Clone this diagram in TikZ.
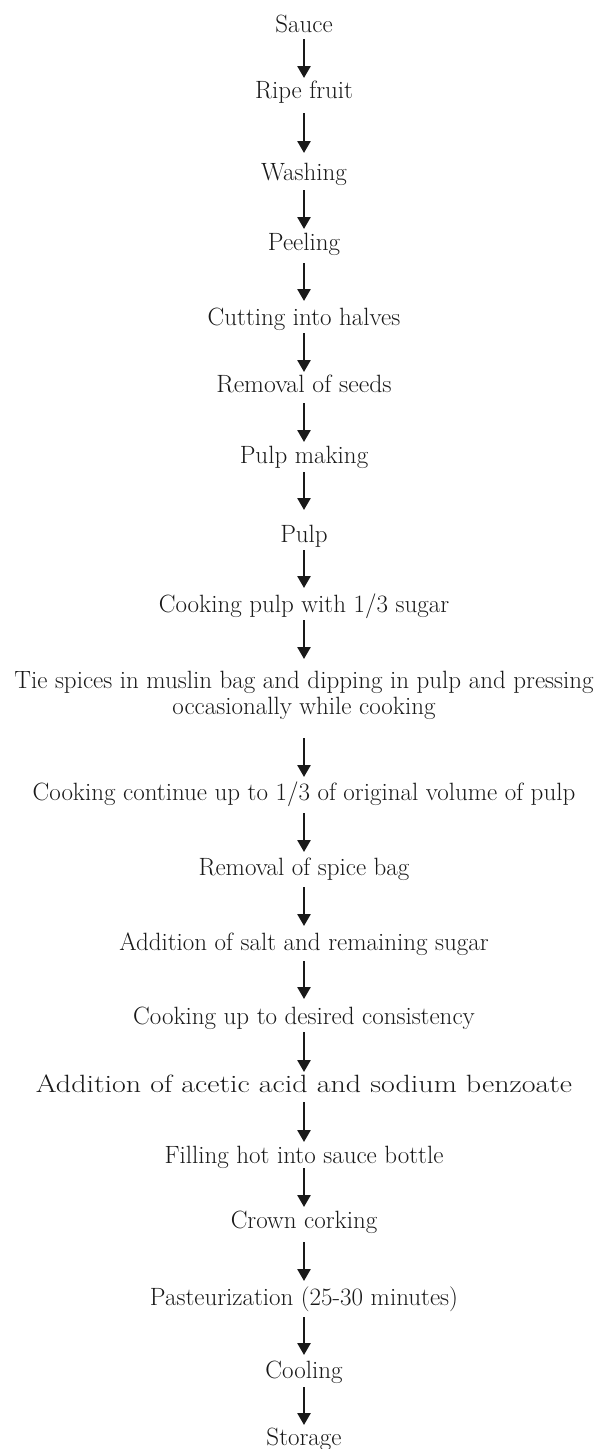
\documentclass[tikz,border=0pt]{standalone}
\usetikzlibrary{arrows.meta}
\begin{document}
\begin{tikzpicture}[x=1pt,y=-1pt,
  stepnode/.style={anchor=base,inner sep=0pt,
    font=\fontsize{25}{30}\selectfont,text=black!90},
  flow/.style={line width=2.6pt,-{Triangle[width=13pt,length=12pt]},black!90}]
\useasboundingbox (0,0) rectangle (599,1449);
\def\cx{304}
\node[stepnode] (n1)  at (\cx,32)   {Sauce};
\node[stepnode] (n2)  at (\cx,98)   {Ripe fruit};
\node[stepnode] (n3)  at (\cx,180)  {Washing};
\node[stepnode] (n4)  at (\cx,250)  {Peeling};
\node[stepnode] (n5)  at (\cx,325)  {Cutting into halves};
\node[stepnode] (n6)  at (\cx,392)  {\scalebox{1.03}[1]{Removal of seeds}};
\node[stepnode] (n7)  at (\cx,463)  {Pulp making};
\node[stepnode] (n8)  at (\cx,542)  {Pulp};
\node[stepnode] (n9)  at (\cx,612)  {Cooking pulp with 1/3 sugar};
\node[stepnode] (n10a) at (\cx,688) {Tie spices in muslin bag and dipping in pulp and pressing};
\node[stepnode] (n10b) at (\cx,714) {occasionally while cooking};
\node[stepnode] (n11) at (\cx,800)  {Cooking continue up to 1/3 of original volume of pulp};
\node[stepnode] (n12) at (\cx,875)  {Removal of spice bag};
\node[stepnode] (n13) at (\cx,950)  {Addition of salt and remaining sugar};
\node[stepnode] (n14) at (\cx,1024) {Cooking up to desired consistency};
\node[stepnode] (n15) at (\cx,1092) {\scalebox{1.2}[1]{Addition of acetic acid and sodium benzoate}};
\node[stepnode] (n16) at (\cx,1163) {Filling hot into sauce bottle};
\node[stepnode] (n17) at (\cx,1228) {Crown corking};
\node[stepnode] (n18) at (\cx,1305) {Pasteurization (25-30 minutes)};
\node[stepnode] (n19) at (\cx,1378) {Cooling};
\node[stepnode] (n20) at (\cx,1445) {Storage};
\foreach \a/\b/\s/\e in {n1/n2/7/20,n2/n3/15/27,n3/n4/10/21,n4/n5/13/24,n5/n6/8/20,
  n6/n7/11/21,n7/n8/9/32,n8/n9/8/24,n9/n10a/8/29,n10b/n11/24/23,n11/n12/13/23,
  n12/n13/12/24,n13/n14/11/25,n14/n15/8/20,n15/n16/10/21,n16/n17/5/21,
  n17/n18/14/24,n18/n19/12/23,n19/n20/9/20}
  \draw[flow] ([yshift=-\s pt]\a.base) -- ([yshift=\e pt]\b.base);
\end{tikzpicture}
\end{document}
